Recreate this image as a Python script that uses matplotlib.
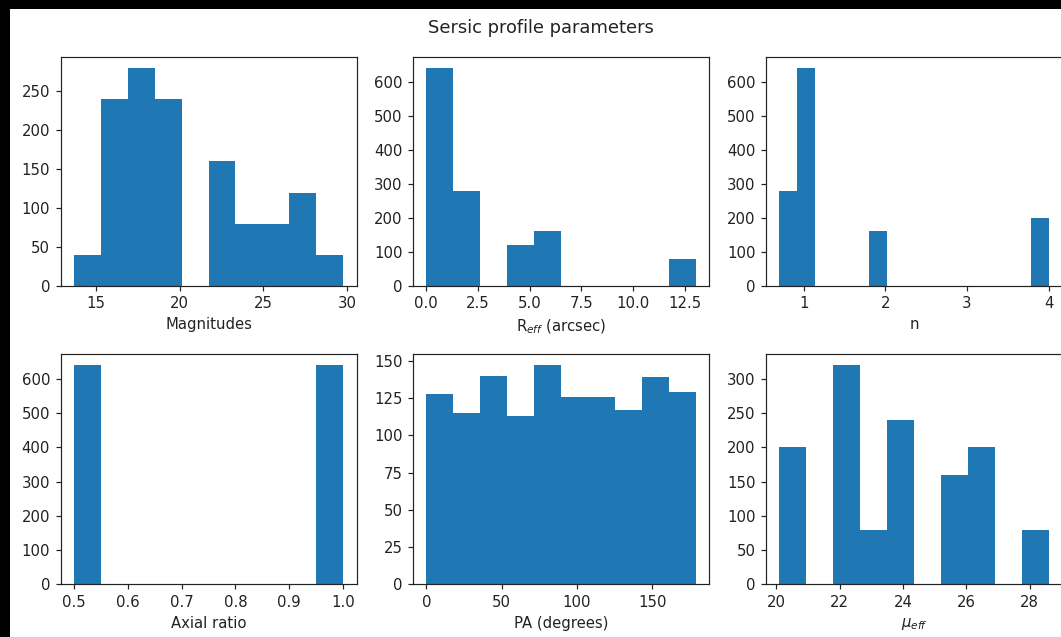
import numpy as np
import matplotlib
matplotlib.use("Agg")
import matplotlib.pyplot as plt
from matplotlib.patches import Rectangle
from matplotlib.ticker import MultipleLocator

# ---- data (histogram bin ranges and counts) ----
mag_range = (13.67, 29.76)
mag_counts = [40, 240, 280, 240, 0, 160, 80, 80, 120, 40]

reff_range = (0.03, 13.0)
reff_counts = [640, 280, 0, 120, 160, 0, 0, 0, 0, 80]

n_range = (0.70, 4.0)
n_counts = [280, 640, 0, 0, 0, 160, 0, 0, 0, 0, 0, 0, 0, 0, 200]

q_range = (0.5, 1.0)
q_counts = [640, 0, 0, 0, 0, 0, 0, 0, 0, 640]

pa_range = (0.0, 178.8)
pa_counts = [128, 115, 140, 113, 147, 126, 126, 117, 139, 129]

mu_range = (20.1, 28.6)
mu_counts = [200, 0, 320, 80, 240, 0, 160, 200, 0, 80]

xlabels = ["Magnitudes", r"R$_{eff}$ (arcsec)", "n",
           "Axial ratio", "PA (degrees)", r"$\mu_{eff}$"]
title = "Sersic profile parameters"

panels = [(mag_range, mag_counts), (reff_range, reff_counts), (n_range, n_counts),
          (q_range, q_counts), (pa_range, pa_counts), (mu_range, mu_counts)]

s = 1.075  # overall scale of the reference rendering
plt.rcParams.update({
    "font.size": 10 * s,
    "axes.linewidth": 0.8 * s,
    "xtick.major.size": 3.5 * s,
    "ytick.major.size": 3.5 * s,
    "xtick.major.width": 0.8 * s,
    "ytick.major.width": 0.8 * s,
    "xtick.major.pad": 3.5 * s,
    "ytick.major.pad": 3.5 * s,
    "axes.labelpad": 4.0 * s,
    "axes.edgecolor": "#222222",
    "xtick.color": "#222222",
    "ytick.color": "#222222",
    "text.color": "#222222",
    "axes.labelcolor": "#222222",
})

W, H = 1061, 637
fig = plt.figure(figsize=(W / 100, H / 100), dpi=100, facecolor="black")
fig.patches.append(Rectangle((10 / W, 0), 1 - 10 / W, 1 - 9 / H,
                             transform=fig.transFigure, facecolor="white",
                             edgecolor="none", zorder=-10))

lefts = [60.5, 413, 766]
rows = [(57, 286), (354.3, 584.3)]
aw = 296

for i, ((lo, hi), counts) in enumerate(panels):
    r, c = divmod(i, 3)
    top, bot = rows[r]
    ax = fig.add_axes([lefts[c] / W, 1 - bot / H, aw / W, (bot - top) / H])
    edges = np.linspace(lo, hi, len(counts) + 1)
    centers = 0.5 * (edges[:-1] + edges[1:])
    ax.hist(centers, bins=edges, weights=counts, color="#1f77b4")
    ax.set_xlabel(xlabels[i])
    if i == 4:
        ax.yaxis.set_major_locator(MultipleLocator(25))

fig.text(541 / W, 1 - 28 / H, title, ha="center", va="center", fontsize=12 * s)

fig.savefig("out.png", dpi=100, facecolor=fig.get_facecolor())
